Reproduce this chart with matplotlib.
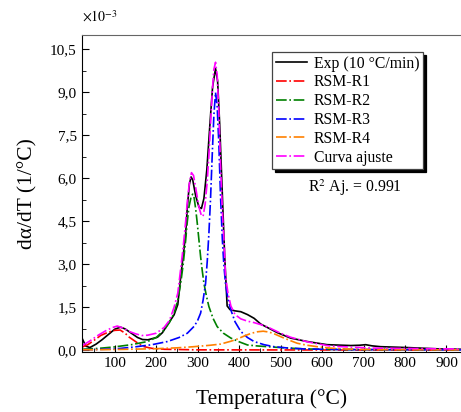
import matplotlib
matplotlib.use("Agg")
import matplotlib.pyplot as plt
from matplotlib.ticker import MultipleLocator, FuncFormatter

plt.rcParams['font.family'] = ['Liberation Serif', 'DejaVu Serif']
plt.rcParams['mathtext.fontset'] = 'stix'

# values (units of 1e-3 1/°C)
t_exp = [22, 30, 40, 55, 70, 85, 100, 114, 125, 140, 155, 167, 180, 203, 215, 227, 243, 252,
         259, 265, 271, 275, 280, 284, 288, 295, 303, 309, 315, 322, 330, 336, 343, 348, 353,
         359, 365, 371, 378, 390, 404, 420, 436, 452, 464, 492, 524, 564, 612, 669, 690, 705,
         720, 741, 805, 886, 936]
y_exp = [0.40, 0.15, 0.10, 0.22, 0.38, 0.56, 0.74, 0.81, 0.75, 0.60, 0.45, 0.38, 0.37, 0.46,
         0.62, 0.89, 1.24, 1.60, 2.57, 3.30, 4.09, 5.00, 5.80, 6.05, 5.95, 5.40, 5.00, 4.95, 5.30,
         6.30, 8.00, 9.20, 9.83, 9.40, 7.90, 5.60, 3.30, 1.55, 1.42, 1.38, 1.35, 1.25, 1.12, 0.92,
         0.83, 0.62, 0.43, 0.31, 0.20, 0.17, 0.18, 0.20, 0.16, 0.13, 0.10, 0.05, 0.04]

t_r1 = [22, 35, 50, 66, 85, 100, 113, 125, 135, 147, 160, 171, 190, 220, 300, 936]
y_r1 = [0.12, 0.20, 0.35, 0.52, 0.64, 0.70, 0.71, 0.60, 0.46, 0.34, 0.21, 0.13, 0.07, 0.04, 0.02, 0.01]

t_r2 = [22, 60, 98, 140, 179, 200, 219, 232, 243, 252, 259, 265, 271, 275, 279, 284, 288, 291,
        295, 299, 303, 307, 311, 315, 321, 327, 337, 347, 362, 380, 400, 420, 440, 468, 520,
        564, 650, 936]
y_r2 = [0.04, 0.07, 0.12, 0.20, 0.31, 0.45, 0.71, 0.98, 1.30, 1.75, 2.34, 3.00, 3.85, 4.50,
        5.01, 5.35, 5.45, 5.36, 4.95, 4.43, 3.85, 3.27, 2.78, 2.34, 1.90, 1.53, 1.12, 0.83, 0.60,
        0.43, 0.30, 0.19, 0.16, 0.13, 0.08, 0.05, 0.03, 0.02]

t_r3 = [22, 100, 147, 190, 227, 255, 275, 292, 300, 307, 313, 319, 323, 327, 331, 335, 339, 343,
        347, 351, 355, 359.5, 363, 367, 373, 380, 390, 404, 420, 436, 460, 484, 520, 560, 650, 936]
y_r3 = [0.02, 0.05, 0.12, 0.20, 0.31, 0.45, 0.60, 0.85, 1.05, 1.30, 1.75, 2.34, 3.10, 4.08, 5.30,
        6.80, 8.20, 9.00, 8.50, 7.20, 5.40, 3.85, 3.00, 2.34, 1.80, 1.41, 1.00, 0.66, 0.45, 0.31,
        0.20, 0.13, 0.08, 0.05, 0.03, 0.02]

t_r4 = [22, 100, 200, 250, 291, 330, 355, 380, 396, 415, 430, 444, 458, 472, 486, 500, 520, 540,
        564, 588, 620, 655, 720, 936]
y_r4 = [0.02, 0.03, 0.06, 0.09, 0.13, 0.18, 0.22, 0.32, 0.40, 0.52, 0.60, 0.65, 0.67, 0.64, 0.57,
        0.48, 0.36, 0.25, 0.18, 0.13, 0.08, 0.05, 0.03, 0.02]

t_fit = [22, 40, 60, 80, 95, 106, 120, 135, 150, 165, 179, 200, 219, 232, 243, 252, 259, 265, 271,
         275, 280, 285, 290, 296, 303, 309, 313, 318, 323, 327, 331, 335, 339, 343, 347, 351, 355,
         360, 364, 367, 373, 380, 390, 404, 420, 436, 452, 468, 484, 500, 524, 564, 620, 724, 936]
y_fit = [0.17, 0.33, 0.53, 0.70, 0.80, 0.85, 0.78, 0.66, 0.58, 0.52, 0.53, 0.60, 0.80, 1.05, 1.50,
         2.00, 2.85, 3.60, 4.50, 5.20, 5.85, 6.20, 6.10, 5.60, 5.00, 4.70, 4.68, 5.10, 5.90, 6.80,
         7.90, 9.00, 9.80, 10.05, 9.60, 8.30, 6.50, 4.70, 3.70, 2.60, 2.00, 1.55, 1.25, 1.10, 1.02,
         0.97, 0.90, 0.82, 0.71, 0.60, 0.46, 0.30, 0.15, 0.08, 0.05]

fig = plt.figure(figsize=(4.61, 4.12), dpi=100)
ax = fig.add_axes([0.177, 0.146, 0.823, 0.769])

ax.plot(t_exp, y_exp, color='black', lw=1.2, label='Exp (10 °C/min)')
ax.plot(t_r1, y_r1, color='#ff0000', lw=1.2, ls='-.', label='RSM-R1')
ax.plot(t_r2, y_r2, color='#008000', lw=1.2, ls='-.', label='RSM-R2')
ax.plot(t_r3, y_r3, color='#0000ff', lw=1.2, ls='-.', label='RSM-R3')
ax.plot(t_r4, y_r4, color='#ff8000', lw=1.2, ls='-.', label='RSM-R4')
ax.plot(t_fit, y_fit, color='#ff00ff', lw=1.2, ls='-.', label='Curva ajuste')

ax.set_xlim(20, 935)
ax.set_ylim(-0.05, 11.0)
ax.xaxis.set_major_locator(MultipleLocator(100))
ax.xaxis.set_minor_locator(MultipleLocator(50))
ax.yaxis.set_major_locator(MultipleLocator(1.5))
ax.yaxis.set_minor_locator(MultipleLocator(0.75))
ax.yaxis.set_major_formatter(FuncFormatter(lambda v, p: f'{v:.1f}'.replace('.', ',')))
ax.tick_params(which='both', direction='in', labelsize=11)
ax.tick_params(which='major', length=5)
ax.tick_params(which='minor', length=3)
ax.spines['right'].set_visible(False)
ax.spines['top'].set_color('#666666')

ax.set_xlabel('Temperatura (°C)', fontsize=15.5, labelpad=14)
ax.set_ylabel('dα/dT (1/°C)', fontsize=15.5, labelpad=9)

fig.text(0.178, 0.94, r'$\times10^{-3}$', fontsize=10, va='bottom')

leg = ax.legend(loc='upper left', bbox_to_anchor=(0.502, 0.946), borderaxespad=0,
                fontsize=11.3, fancybox=False, edgecolor='#444444', framealpha=1,
                handlelength=2.0, handletextpad=0.45, labelspacing=0.18, borderpad=0.22,
                shadow={'color': 'black', 'alpha': 1})
leg.get_frame().set_linewidth(0.9)

ax.text(0.72, 0.517, r'R$^2$ Aj. = 0.991', transform=ax.transAxes, fontsize=11.3,
        ha='center', va='center')

fig.savefig('out.png', dpi=100)
